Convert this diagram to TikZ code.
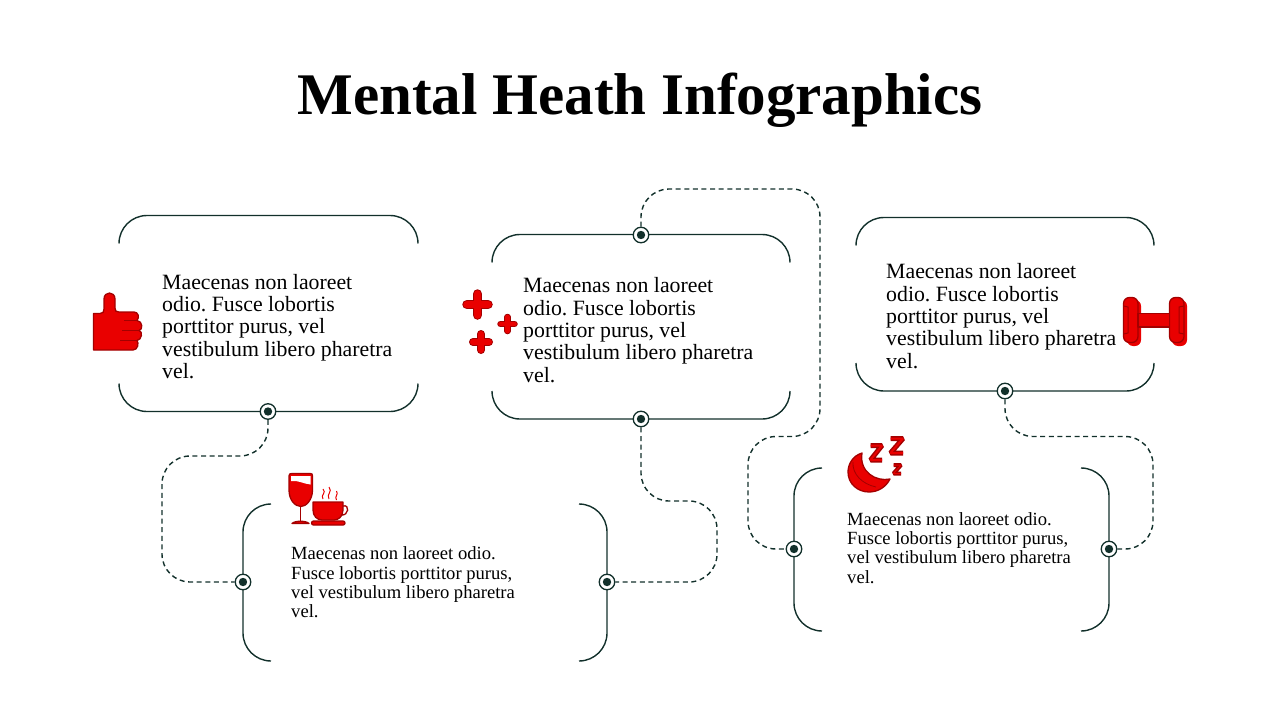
\documentclass[tikz,border=0pt]{standalone}
\usepackage{fontspec}
\setmainfont{Liberation Serif}
\frenchspacing
\definecolor{linecol}{HTML}{12302B}
\definecolor{iconred}{HTML}{E90000}
\definecolor{icondark}{HTML}{A30000}
\newcommand{\bigtext}{\fontsize{21.8}{22.3}\selectfont}
\newcommand{\smalltext}{\fontsize{18.6}{19.3}\selectfont}
\newcommand{\plusicon}[4]{%
  \draw[icondark,line width=#4pt,line cap=round] (#1-#3,#2) -- (#1+#3,#2) (#1,#2-#3) -- (#1,#2+#3);
  \draw[iconred,line width=#4pt-2pt,line cap=round] (#1-#3,#2) -- (#1+#3,#2) (#1,#2-#3) -- (#1,#2+#3);}
\newcommand{\zicon}[5]{%
  \draw[icondark,line width=#5pt,line join=bevel] (#1,#2) -- (#3,#2) -- (#1,#4) -- (#3,#4);
  \draw[iconred,line width=#5pt-3pt,line join=bevel] (#1,#2) -- (#3,#2) -- (#1,#4) -- (#3,#4);}
\begin{document}
\begin{tikzpicture}[x=1pt,y=-1pt,
boxline/.style={draw=linecol,line width=1.4pt,rounded corners=28pt},
dashline/.style={draw=linecol,line width=1.4pt,dash pattern=on 5pt off 3.6pt,rounded corners=28pt},
conndot/.style={circle,draw=linecol,fill=white,line width=1.3pt,minimum size=15.5pt,inner sep=0pt,
  path picture={\fill[linecol] (path picture bounding box.center) circle (4.2pt);}},
icon/.style={draw=icondark,fill=iconred,line width=1.3pt,line join=round},
bigbody/.style={anchor=west,align=left,inner sep=0pt,font=\bigtext},
smallbody/.style={anchor=west,align=left,inner sep=0pt,font=\smalltext}]
\useasboundingbox (0,0) rectangle (1280,720);
\node[font=\fontsize{59}{62}\selectfont\bfseries] (title) at (640,100) {Mental Heath Infographics};

\draw[boxline] (119,243.5) |- (268,215.5) -| (418,243.5);
\draw[boxline] (119,383.5) |- (268,411.5) -| (418,383.5);
\draw[boxline] (492,262.5) |- (641,234.5) -| (790,262.5);
\draw[boxline] (492,391) |- (641,419) -| (790,391);
\draw[boxline] (856,245.5) |- (1005,217.5) -| (1154,245.5);
\draw[boxline] (856,363) |- (1005,391) -| (1154,363);
\draw[boxline] (271,504) -| (243,582) |- (271,661);
\draw[boxline] (579,504) -| (607,582) |- (579,661);
\draw[boxline] (822,468) -| (794,549) |- (822,631);
\draw[boxline] (1081,468) -| (1109,549) |- (1081,631);

\node[conndot] (dotone) at (268,411.5) {};
\node[conndot] (dottwotop) at (641,235) {};
\node[conndot] (dottwo) at (641,419) {};
\node[conndot] (dotthree) at (1005,391) {};
\node[conndot] (dotcupl) at (243,582) {};
\node[conndot] (dotcupr) at (607,582) {};
\node[conndot] (dotmoonl) at (794,549) {};
\node[conndot] (dotmoonr) at (1109,549) {};
\coordinate (bendone) at (162,456);
\coordinate (bendtwo) at (717,501);
\coordinate (bendthree) at (1153,436.5);
\coordinate (bendtopa) at (820,189);
\coordinate (bendtopb) at (748,436.5);
\draw[dashline] (dotone) |- (bendone) |- (dotcupl);
\draw[dashline] (dottwo) |- (bendtwo) |- (dotcupr);
\draw[dashline] (dotthree) |- (bendthree) |- (dotmoonr);
\draw[dashline] (dottwotop) |- (bendtopa) |- (bendtopb) |- (dotmoonl);

\node[bigbody] (textone) at (162,326.5) {Maecenas non laoreet\\odio. Fusce lobortis\\porttitor purus, vel\\vestibulum libero pharetra\\vel.};
\node[bigbody] (texttwo) at (523,330) {Maecenas non laoreet\\odio. Fusce lobortis\\porttitor purus, vel\\vestibulum libero pharetra\\vel.};
\node[bigbody] (textthree) at (886,316) {Maecenas non laoreet\\odio. Fusce lobortis\\porttitor purus, vel\\vestibulum libero pharetra\\vel.};
\node[smallbody] (textcup) at (291,582.5) {Maecenas non laoreet odio.\\Fusce lobortis porttitor purus,\\vel vestibulum libero pharetra\\vel.};
\node[smallbody] (textmoon) at (847,548) {Maecenas non laoreet odio.\\Fusce lobortis porttitor purus,\\vel vestibulum libero pharetra\\vel.};

\draw[icon] (93.5,313.5) -- (100,313.5) .. controls (103,313.5) and (104,312) .. (104,309) -- (104,299)
  .. controls (104,291) and (115,291) .. (115,299) -- (115,308) .. controls (115,311) and (116,312) .. (119,312)
  -- (134,312) .. controls (138,312) and (140,317) .. (137,320.5) .. controls (143,321) and (143,330) .. (139,330.5)
  .. controls (143,331) and (142,340) .. (137,340.5) .. controls (139,343) and (138,350) .. (133,350)
  -- (93.5,350) -- cycle;
\draw[icondark,line width=1.5pt] (124,320.5) -- (138,320.5) (122,330.5) -- (139,330.5) (120,340.5) -- (137,340.5);

\plusicon{477.5}{304.5}{10.5}{9.5}
\plusicon{507.5}{324}{7}{6.5}
\plusicon{481}{342}{8}{8}

\fill[iconred,rounded corners=6pt] (1127,300) rectangle (1141,346);
\fill[iconred,rounded corners=6pt] (1172,300) rectangle (1187,346);
\draw[icon,rounded corners=6pt] (1123.5,297.5) rectangle (1138,342.5);
\draw[icon,rounded corners=6pt] (1169.5,297.5) rectangle (1184,342.5);
\draw[icon] (1138,313.5) rectangle (1169.5,327);
\draw[icondark,line width=1pt] (1123.5,306) -- (1128,307) -- (1128,333) -- (1123.5,334);
\draw[icondark,line width=1pt] (1184,306) -- (1179,307) -- (1179,333) -- (1184,334);

\draw[icon] (289,476) .. controls (289,474) and (290,473.5) .. (292,473.5) -- (310,473.5) .. controls (312,473.5) and (312.5,474) .. (312.5,476)
  -- (312.5,490) .. controls (312.5,500) and (306,506.5) .. (301,506.5) .. controls (295,506.5) and (289,500) .. (289,490) -- cycle;
\fill[white] (291,476) -- (310.5,476) -- (310.5,484.5) .. controls (304,484) and (298,480) .. (291,481) -- cycle;
\draw[icondark,line width=1.8pt] (300.5,506) -- (300.5,522);
\draw[icon] (292,523.5) .. controls (295,520.5) and (306,520.5) .. (309,523.5) -- cycle;
\draw[icon] (313,502) -- (343,502) -- (343,510) .. controls (343,517) and (338,520) .. (334,520) -- (322,520) .. controls (317,520) and (313,516) .. (313,510) -- cycle;
\draw[icondark,line width=1.3pt] (343,506) .. controls (350,504) and (349,516) .. (341,515);
\draw[icon,rounded corners=2pt] (311.5,521) rectangle (345,525);
\draw[iconred,line width=1pt] (323,499) .. controls (320,495) and (327,493) .. (323,489);
\draw[iconred,line width=1pt] (329,499) .. controls (326,494) and (333,492) .. (329,487);
\draw[iconred,line width=1pt] (336.5,500) .. controls (334,496) and (339,495) .. (336.5,491);

\draw[icon] (862,453) .. controls (852,456) and (848,465) .. (848,472) .. controls (848,484) and (858,492) .. (869,492) .. controls (878,492) and (886,487) .. (890,479)
  .. controls (876,482) and (859,472) .. (862,453) -- cycle;
\draw[icondark,line width=0.8pt] (853,462) .. controls (852,474) and (862,484) .. (876,487);
\zicon{870.5}{445.5}{882}{460}{5}
\zicon{890.5}{438.5}{903}{453}{5}
\zicon{893.5}{465}{901}{473.5}{4}
\end{tikzpicture}
\end{document}
